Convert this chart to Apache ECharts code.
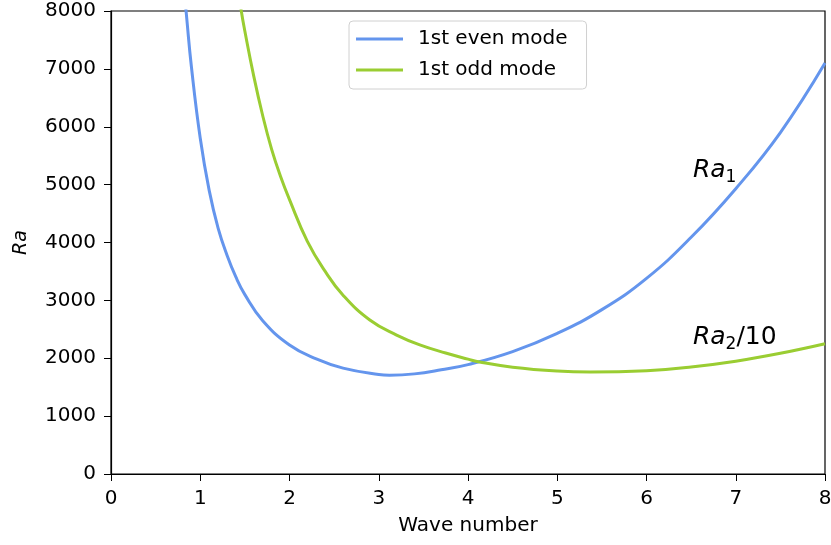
<!DOCTYPE html>
<html>
<head>
<meta charset="utf-8">
<script src="https://cdn.jsdelivr.net/npm/echarts@6/dist/echarts.min.js"></script>
<style>
  html, body { margin: 0; padding: 0; background: #fff; }
  #myChart { width: 831px; height: 545px; }
</style>
</head>
<body>
<div id="myChart"></div>
<script>
// values
const evenK  = [0.80, 0.85, 0.90, 1.00, 1.10, 1.20, 1.30, 1.40, 1.50, 1.70, 2.00, 2.30, 2.60, 3.00, 3.12, 3.40, 3.70, 4.00, 4.50, 5.00, 5.50, 6.00, 6.50, 7.00, 7.50, 8.00];
const evenRa = [8700, 7850, 7050, 5800, 4900, 4250, 3780, 3400, 3100, 2650, 2230, 1990, 1830, 1720, 1708, 1730, 1800, 1890, 2115, 2430, 2840, 3380, 4090, 4930, 5900, 7100];
const oddK   = [1.40, 1.46, 1.50, 1.60, 1.70, 1.80, 1.90, 2.00, 2.20, 2.40, 2.60, 2.90, 3.20, 3.46, 3.75, 4.00, 4.13, 4.50, 5.00, 5.37, 6.00, 6.50, 7.00, 7.50, 8.00];
const oddRa  = [8650, 8000, 7650, 6870, 6190, 5610, 5140, 4740, 4020, 3500, 3090, 2660, 2400, 2230, 2090, 1985, 1935, 1845, 1778, 1761, 1785, 1850, 1950, 2085, 2250];
const seriesNames = ['1st even mode', '1st odd mode'];
const xTicks = [0, 1, 2, 3, 4, 5, 6, 7, 8];
const yTicks = [0, 1000, 2000, 3000, 4000, 5000, 6000, 7000, 8000];

const myChart = echarts.init(document.getElementById('myChart'));
const font = 'DejaVu Sans';

function pairs(xs, ys) {
    return xs.map((x, i) => [x, ys[i]]);
}

const subRich = {
    a: { fontFamily: font, fontSize: 25, fontStyle: 'italic', color: '#000' },
    b: { fontFamily: font, fontSize: 17, color: '#000', verticalAlign: 'bottom', padding: [14, 0, 0, 0] },
    c: { fontFamily: font, fontSize: 25, color: '#000' }
};

const option = {
    animation: false,
    grid: {
        left: 111, right: 6, top: 11, bottom: 71,
        outerBoundsMode: 'none',
        show: true, borderColor: '#000', borderWidth: 1.2
    },
    legend: {
        data: seriesNames,
        orient: 'vertical',
        left: 349, top: 21,
        padding: [8, 19, 9, 7],
        itemGap: 11,
        itemWidth: 47, itemHeight: 3,
        icon: 'rect',
        borderColor: '#d0d0d0', borderWidth: 1, borderRadius: 4,
        textStyle: { fontFamily: font, fontSize: 20, color: '#000', padding: [0, 0, 0, 10] }
    },
    xAxis: {
        type: 'value',
        min: xTicks[0], max: xTicks[xTicks.length - 1], interval: 1,
        name: 'Wave number',
        nameLocation: 'middle',
        nameGap: 42,
        nameTextStyle: { fontFamily: font, fontSize: 20, color: '#000' },
        axisLine: { show: true, lineStyle: { color: '#000', width: 1.2 } },
        axisTick: { show: true, length: 7, lineStyle: { color: '#000' } },
        axisLabel: { fontFamily: font, fontSize: 20, color: '#000', margin: 15 },
        splitLine: { show: false }
    },
    yAxis: {
        type: 'value',
        min: yTicks[0], max: yTicks[yTicks.length - 1], interval: 1000,
        name: 'Ra',
        nameLocation: 'middle',
        nameGap: 80,
        nameTextStyle: { fontFamily: font, fontSize: 19, fontStyle: 'italic', color: '#000' },
        axisLine: { show: true, lineStyle: { color: '#000', width: 1.2 } },
        axisTick: { show: true, length: 7, lineStyle: { color: '#000' } },
        axisLabel: { fontFamily: font, fontSize: 20, color: '#000', margin: 15, formatter: v => String(v) },
        splitLine: { show: false }
    },
    series: [
        {
            name: seriesNames[0],
            type: 'line',
            data: pairs(evenK, evenRa),
            smooth: 0.45,
            showSymbol: false,
            clip: true,
            color: '#6495ED',
            lineStyle: { width: 3, color: '#6495ED' },
            markPoint: {
                symbolSize: 0,
                data: [{ coord: [6.52, 5250], value: 1 }],
                label: {
                    show: true, position: 'right', distance: 0,
                    formatter: '{a|Ra}{b|1}',
                    rich: subRich
                }
            }
        },
        {
            name: seriesNames[1],
            type: 'line',
            data: pairs(oddK, oddRa),
            smooth: 0.45,
            showSymbol: false,
            clip: true,
            color: '#9ACD32',
            lineStyle: { width: 3, color: '#9ACD32' },
            markPoint: {
                symbolSize: 0,
                data: [{ coord: [6.52, 2350], value: 2 }],
                label: {
                    show: true, position: 'right', distance: 0,
                    formatter: '{a|Ra}{b|2}{c|/10}',
                    rich: subRich
                }
            }
        }
    ]
};

myChart.setOption(option);
window.addEventListener('resize', myChart.resize);
</script>
</body>
</html>
